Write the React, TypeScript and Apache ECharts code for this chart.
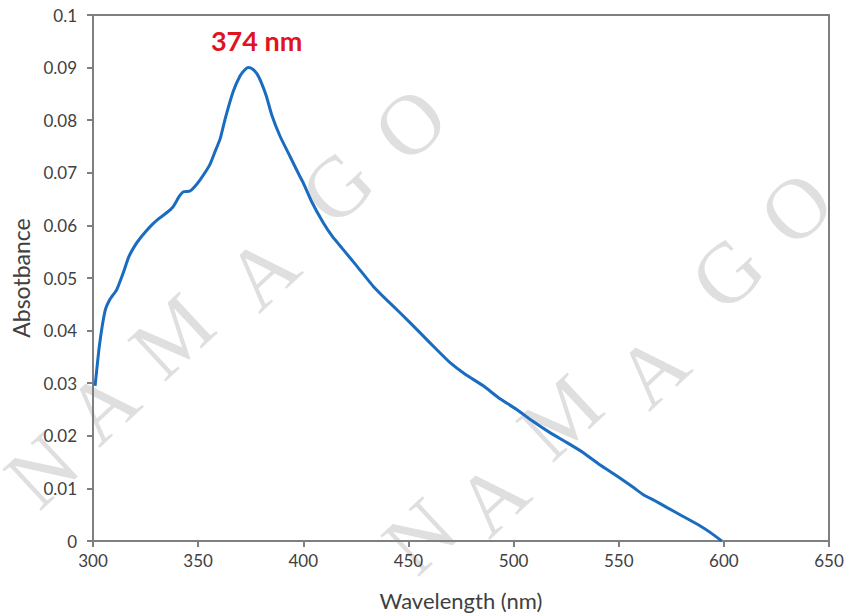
import React, { useEffect, useRef } from "react";
import * as echarts from "echarts";

const wavelengths = [
  301, 303, 305.7, 308, 311.3, 314.4, 317, 320, 322.5, 325, 328, 331, 335, 338, 341, 343, 346, 348, 351,
  355.5, 358, 360.5, 363, 366.7, 369.9, 372, 373.8, 376, 378, 380, 382.5, 385, 388.9, 393.7, 398.4, 400, 404,
  409.5, 414, 419, 425, 433.3, 440, 446, 455, 463.4, 469.8, 477, 485.6, 493, 501.5, 509, 517.3, 525,
  533.2, 541, 549, 556.9, 561.7, 567, 572.8, 580, 588.6, 594, 599,
];
const absorbance = [
  0.0295, 0.037, 0.0437, 0.0459, 0.0478, 0.051, 0.054, 0.0562, 0.0576, 0.0588, 0.0601, 0.0612, 0.0624,
  0.0635, 0.0655, 0.0664, 0.0665, 0.0672, 0.0687, 0.0715, 0.074, 0.0765, 0.0805, 0.0855, 0.0884, 0.0895, 0.0900,
  0.0897, 0.0888, 0.0872, 0.0845, 0.081, 0.077, 0.0731, 0.0693, 0.0681, 0.0645, 0.0605, 0.0578, 0.0554,
  0.0525, 0.0484, 0.0457, 0.0434, 0.0398, 0.0364, 0.0339, 0.0317, 0.0295, 0.0272, 0.025, 0.0228, 0.0206,
  0.0188, 0.0168, 0.0145, 0.0124, 0.0102, 0.0088, 0.0077, 0.0064, 0.0048, 0.0029, 0.0015, 0.0,
];
const peakWavelength = 374;
const peakAbsorbance = 0.09;
const peakLabel = "374 nm";
const xTitle = "Wavelength (nm)";
const yTitle = "Absotbance";
const watermarkText = "NAMAGO";

const wm1 = [[42, 470], [102, 406], [172, 336], [262, 272], [337, 187], [410, 124]];
const wm2 = [[420, 536], [492, 498], [560, 417], [652, 370], [727, 273], [796, 208]];

export default function App() {
  const ref = useRef<HTMLDivElement>(null);
  useEffect(() => {
    document.body.style.margin = "0";
    if (!ref.current) return;
    const chart = echarts.init(ref.current, undefined, { renderer: "svg" });
    const font = "Lato";
    const letters: any[] = [];
    [wm1, wm2].forEach((set) => {
      set.forEach((p, i) => {
        letters.push({
          type: "text",
          x: p[0],
          y: p[1],
          rotation: 0.75,
          z: -10,
          silent: true,
          style: {
            text: watermarkText[i],
            fontFamily: "Liberation Serif",
            fontSize: 86,
            fill: "#dfdfdf",
            align: "center",
            verticalAlign: "middle",
          },
        });
      });
    });
    const axisLine = { show: true, lineStyle: { color: "#7f7f7f", width: 2 } };
    chart.setOption({
      animation: false,
      backgroundColor: "#ffffff",
      graphic: letters,
      grid: {
        left: 93,
        right: 19,
        top: 15,
        bottom: 74,
        show: true,
        borderColor: "#7f7f7f",
        borderWidth: 2,
        z: 0,
      },
      xAxis: {
        type: "value",
        min: 300,
        max: 650,
        interval: 50,
        name: xTitle,
        nameLocation: "middle",
        nameGap: 48,
        nameTextStyle: { fontFamily: font, fontSize: 22, color: "#404040" },
        axisLine,
        axisTick: { show: true, length: 6, lineStyle: { color: "#7f7f7f", width: 2 } },
        splitLine: { show: false },
        axisLabel: { fontFamily: font, fontSize: 17, color: "#404040", margin: 11 },
      },
      yAxis: {
        type: "value",
        min: 0,
        max: 0.1,
        interval: 0.01,
        name: yTitle,
        nameLocation: "middle",
        nameGap: 61,
        nameTextStyle: { fontFamily: font, fontSize: 23, color: "#404040" },
        axisLine,
        axisTick: { show: true, length: 6, lineStyle: { color: "#7f7f7f", width: 2 } },
        splitLine: { show: false },
        axisLabel: {
          fontFamily: font,
          fontSize: 17,
          color: "#404040",
          margin: 16,
          formatter: (v: number) => String(Math.round(v * 100) / 100),
        },
      },
      series: [
        {
          type: "line",
          data: wavelengths.map((w, i) => [w, absorbance[i]]),
          showSymbol: false,
          symbol: "none",
          smooth: 0.15,
          z: 5,
          lineStyle: { color: "#1a6cbf", width: 3 },
          markPoint: {
            symbol: "circle",
            symbolSize: 0,
            silent: true,
            data: [{ coord: [peakWavelength, peakAbsorbance] }],
            label: {
              show: true,
              formatter: peakLabel,
              position: "inside",
              offset: [8, -27],
              fontFamily: font,
              fontWeight: "bold",
              fontSize: 27,
              color: "#e0141e",
            },
          },
        },
      ],
    });
    return () => chart.dispose();
  }, []);
  return <div ref={ref} style={{ width: 848, height: 616 }} />;
}
